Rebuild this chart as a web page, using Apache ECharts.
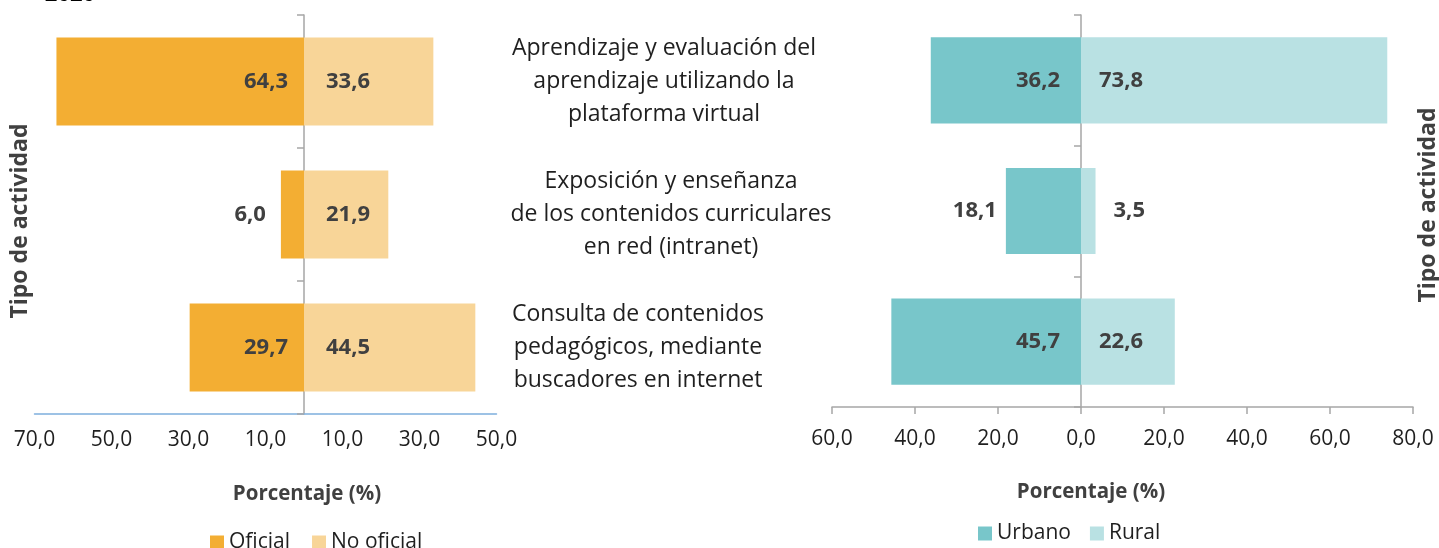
<!DOCTYPE html>
<html>
<head>
<meta charset="utf-8">
<script src="https://cdn.jsdelivr.net/npm/echarts@6/dist/echarts.min.js"></script>
<style>
  html, body { margin: 0; padding: 0; background: #fff; }
  #chart { width: 1439px; height: 548px; }
</style>
</head>
<body>
<div id="chart"></div>
<script>
// categorías (de arriba hacia abajo)
const actividades = [
  'Aprendizaje y evaluación del\naprendizaje utilizando la\nplataforma virtual',
  'Exposición y enseñanza\nde los contenidos curriculares\nen red (intranet)',
  'Consulta de contenidos\npedagógicos, mediante\nbuscadores en internet'
]
const oficial = [64.3, 6.0, 29.7]
const noOficial = [33.6, 21.9, 44.5]
const urbano = [36.2, 18.1, 45.7]
const rural = [73.8, 3.5, 22.6]

const FONT = '"Open Sans", "Noto Sans", sans-serif'
const fmt = v => Math.abs(v).toFixed(1).replace('.', ',')

const labelStyle = {
  show: true,
  color: '#404040',
  fontFamily: FONT,
  fontWeight: 'bold',
  fontSize: 22,
  formatter: p => fmt(p.value)
}

// barra pequeña: etiqueta fuera de la barra
const buildData = (vals, sign, small, pos, dist) =>
  vals.map((v, i) => i === small
    ? { value: sign * v, label: { position: pos, distance: dist } }
    : sign * v)

const tickLabel = {
  color: '#1f1f1f',
  fontFamily: FONT,
  fontSize: 21,
  formatter: v => fmt(v)
}

const catAxis = gridIndex => ({
  type: 'category',
  gridIndex,
  inverse: true,
  data: actividades,
  axisLine: { show: true, lineStyle: { color: '#a6a6a6', width: 1.5 } },
  axisTick: { show: true, length: 7, lineStyle: { color: '#a6a6a6', width: 1.5 } },
  axisLabel: { show: false },
  splitLine: { show: false }
})

const titleStyle = (text, size) => ({
  text, fill: '#404040', font: 'bold ' + size + 'px ' + FONT,
  textAlign: 'center', textVerticalAlign: 'middle', align: 'center', verticalAlign: 'middle'
})

const chart = echarts.init(document.getElementById('chart'), null, { renderer: 'canvas' })

chart.setOption({
  backgroundColor: '#fff',
  animation: false,
  textStyle: { fontFamily: FONT },
  grid: [
    { left: 34.5, width: 462, top: 15, height: 399 },
    { left: 832, width: 581, top: 15, height: 392 },
    { left: 514, width: 314, top: 15, height: 399 }
  ],
  xAxis: [
    {
      type: 'value', gridIndex: 0, min: -70, max: 50, interval: 20,
      axisLine: { show: true, onZero: false, lineStyle: { color: '#7eaedd', width: 1.5 } },
      axisTick: { show: false },
      axisLabel: { ...tickLabel, margin: 16 },
      splitLine: { show: false }
    },
    {
      type: 'value', gridIndex: 1, min: -60, max: 80, interval: 20,
      axisLine: { show: true, onZero: false, lineStyle: { color: '#a6a6a6', width: 1.5 } },
      axisTick: { show: true, length: 7, lineStyle: { color: '#a6a6a6', width: 1.5 } },
      axisLabel: { ...tickLabel, margin: 22 },
      splitLine: { show: false }
    },
    { type: 'value', gridIndex: 2, show: false }
  ],
  yAxis: [
    catAxis(0),
    catAxis(1),
    {
      type: 'category',
      gridIndex: 2,
      inverse: true,
      data: actividades.map((a, i) => ({
        value: a,
        textStyle: {
          align: 'center',
          color: '#1f1f1f',
          fontFamily: FONT,
          fontSize: 23,
          lineHeight: 33,
          padding: [4, [14, 0, 66][i], 0, 0]
        }
      })),
      axisLine: { show: false },
      axisTick: { show: false },
      axisLabel: {
        inside: true,
        margin: 157,
        align: 'center',
        color: '#1f1f1f',
        fontFamily: FONT,
        fontSize: 23,
        lineHeight: 33
      }
    }
  ],
  legend: [
    {
      data: ['Oficial', 'No oficial'],
      left: 205, top: 527,
      icon: 'rect', itemWidth: 14, itemHeight: 14, itemGap: 22,
      textStyle: { color: '#1f1f1f', fontFamily: FONT, fontSize: 21 }
    },
    {
      data: ['Urbano', 'Rural'],
      left: 973, top: 518,
      icon: 'rect', itemWidth: 14, itemHeight: 14, itemGap: 19,
      textStyle: { color: '#1f1f1f', fontFamily: FONT, fontSize: 21 }
    }
  ],
  graphic: [
    {
      type: 'text', x: 70, y: -5,
      style: { ...titleStyle('2020', 22), fill: '#000' }
    },
    { type: 'text', x: 20, y: 221, rotation: Math.PI / 2, style: titleStyle('Tipo de actividad', 23) },
    { type: 'text', x: 1428, y: 205, rotation: Math.PI / 2, style: titleStyle('Tipo de actividad', 23) },
    { type: 'text', x: 307, y: 494, style: titleStyle('Porcentaje (%)', 20.5) },
    { type: 'text', x: 1091, y: 492, style: titleStyle('Porcentaje (%)', 20.5) }
  ],
  series: [
    {
      name: 'Oficial', type: 'bar', xAxisIndex: 0, yAxisIndex: 0, stack: 'izq',
      barWidth: '66%', itemStyle: { color: '#f3ae33' },
      label: { ...labelStyle, position: 'insideRight', distance: 16 },
      data: buildData(oficial, -1, 1, 'left', 15)
    },
    {
      name: 'No oficial', type: 'bar', xAxisIndex: 0, yAxisIndex: 0, stack: 'izq',
      barWidth: '66%', itemStyle: { color: '#f8d598' },
      label: { ...labelStyle, position: 'insideLeft', distance: 22 },
      data: noOficial
    },
    {
      name: 'Urbano', type: 'bar', xAxisIndex: 1, yAxisIndex: 1, stack: 'der',
      barWidth: '66%', itemStyle: { color: '#78c6ca' },
      label: { ...labelStyle, position: 'insideRight', distance: 21 },
      data: buildData(urbano, -1, 1, 'left', 9)
    },
    {
      name: 'Rural', type: 'bar', xAxisIndex: 1, yAxisIndex: 1, stack: 'der',
      barWidth: '66%', itemStyle: { color: '#b9e1e3' },
      label: { ...labelStyle, position: 'insideLeft', distance: 18 },
      data: buildData(rural, 1, 1, 'right', 18)
    }
  ]
})
</script>
</body>
</html>
